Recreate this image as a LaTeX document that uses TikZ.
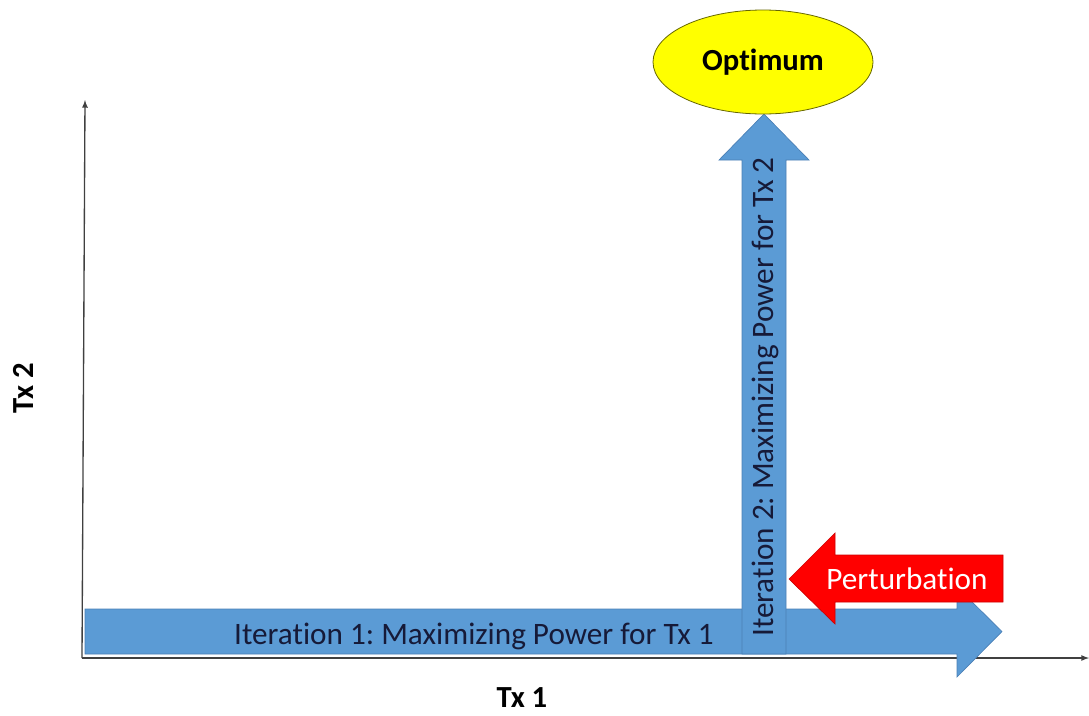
\documentclass[tikz,border=0pt]{standalone}
\usepackage{fontspec}
\setmainfont{Carlito}[RawFeature=-liga]
\frenchspacing
\usetikzlibrary{arrows,shapes.geometric,positioning}
\definecolor{bleu}{HTML}{5B9BD5}
\definecolor{bleufonce}{HTML}{4A7FB5}
\definecolor{rouge}{HTML}{FF0000}
\definecolor{texte}{HTML}{161A38}
\definecolor{jaune}{HTML}{FFFF00}

\begin{document}
\begin{tikzpicture}[x=0.75pt,y=-0.75pt]
%repère en pixels, axe y vers le bas
\tikzset{fleche/.style={fill=bleu,draw=bleufonce,line width=0.5pt}, %grosses flèches bleues
 etiq/.style={font=\fontsize{23.4}{28}\selectfont,text=texte,inner sep=0pt},
 titre/.style={font=\fontsize{23}{28}\selectfont\bfseries,inner sep=0pt},
 axe/.style={draw=black!75,line width=1pt,-latex}}
\useasboundingbox (0,0) rectangle (1089,715);
% axes
\coordinate (O) at (82,658);
\coordinate (Xf) at (1089,658);
\coordinate (Yf) at (85,100);
\draw[axe] (O) -- (Xf);
\draw[axe] (O) -- (Yf);
% iteration 1
\path[fleche] (85,609) -- (957,609) -- (957,587) -- (1002,631.5) -- (957,677) -- (957,654) -- (85,654) -- cycle;
% iteration 2
\path[fleche] (742,654) -- (742,160) -- (719,160) -- (764,114) -- (809,160) -- (786,160) -- (786,654) -- cycle;
% perturbation
\path[fill=rouge,draw=red!80!black,line width=0.5pt] (1003,555) -- (835,555) -- (835,533) -- (789,579) -- (835,624) -- (835,602) -- (1003,602) -- cycle;
\node[etiq] (it1) at (474,636) {Iteration 1: Maximizing Power for Tx 1};
\node[etiq,rotate=90] (it2) at (765,397) {Iteration 2: Maximizing Power for Tx 2};
\node[etiq,text=white] (pert) at (907,579) {Perturbation};
\node[ellipse,fill=jaune,draw=black!60!jaune,line width=0.6pt,inner sep=0pt,
 minimum width=165pt,minimum height=78pt,font=\fontsize{23}{28}\selectfont\bfseries] (opt) at (763,62) {Optimum};
\node[titre] (tx1) at (522,698) {Tx 1};
\node[titre,rotate=90] (tx2) at (23,388) {Tx 2};
\end{tikzpicture}
\end{document}
